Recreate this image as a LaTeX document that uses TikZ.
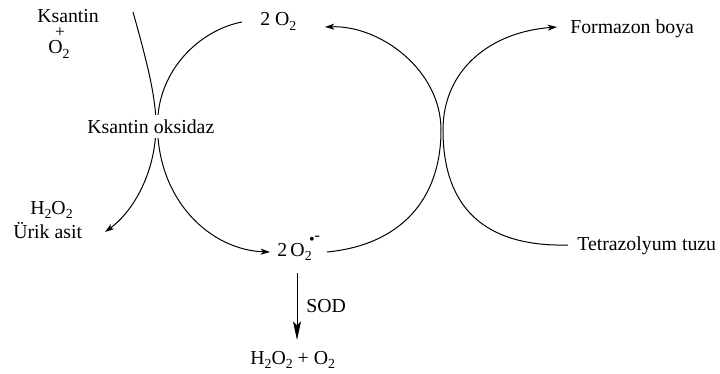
\documentclass[tikz,border=0pt]{standalone}
\usepackage{fontspec}
\setmainfont{Liberation Serif}
\usetikzlibrary{arrows.meta,backgrounds}
\newcommand\sbs[1]{\raisebox{-0.25em}{\fontsize{10.4}{12}\selectfont #1}}
\begin{document}
\begin{tikzpicture}[x=0.75pt,y=-0.75pt,
  lbl/.style={font=\fontsize{14.85}{18}\selectfont, inner sep=0pt, anchor=base west},
  curve/.style={line width=0.75pt},
  arr/.style={curve,-{Stealth[length=7pt,width=4.5pt,inset=2pt]}},
  bigarr/.style={curve,-{Stealth[length=14pt,width=6pt,inset=3pt]}}]
\useasboundingbox (0,0) rectangle (720,374);

% labels
\node[lbl] (ks) at (37,23) {Ksantin};
\node[lbl,anchor=center,font=\fontsize{13}{13}\selectfont] (plus) at (60,32.5) {+};
\node[lbl] (o2a) at (48,54) {O\sbs{2}};
\node[lbl,fill=white,inner xsep=0pt,inner ysep=3.5pt] (ko) at (87,133) {Ksantin oksidaz};
\node[lbl] (h2o2) at (30,214) {H\sbs{2}O\sbs{2}};
\node[lbl] (urik) at (13,238) {Ürik asit};
\node[lbl] (o2top) at (260,26) {2 O\sbs{2}};
\node[lbl] (rad) at (277,256) {2\,O\sbs{2}\hspace{-2pt}\raisebox{9pt}{\fontsize{12}{12}\selectfont\textbullet}\raisebox{11.5pt}{\fontsize{12}{12}\selectfont -}};
\node[lbl] (sod) at (306,312) {SOD};
\node[lbl] (prod) at (250,364) {H\sbs{2}O\sbs{2} + O\sbs{2}};
\node[lbl] (form) at (570,34) {Formazon boya};
\node[lbl] (tetra) at (577,250) {Tetrazolyum tuzu};

% connector end points
\coordinate (a1) at (133,12);
\coordinate (L) at (156,125);
\coordinate (a2) at (105,232);
\coordinate (c1) at (242,22);
\coordinate (CL) at (157.5,125);
\coordinate (c2) at (270,252);
\coordinate (c3) at (327,252);
\coordinate (CR) at (441,130);
\coordinate (c4) at (325,27);
\coordinate (d1) at (568,245);
\coordinate (DR) at (443,130);
\coordinate (d2) at (557,27);
\coordinate (s1) at (297,273);
\coordinate (s2) at (297,340);

\begin{pgfonlayer}{background}
\draw[arr] (a1) .. controls (145,55) and (156,95) .. (L)
                .. controls (156,170) and (135,210) .. (a2);
\draw[arr] (c1) .. controls (200,30) and (157.5,70) .. (CL)
                .. controls (157.5,200) and (210,250) .. (c2);
\draw[arr] (c3) .. controls (400,245) and (441,200) .. (CR)
                .. controls (441,70) and (380,25) .. (c4);
\draw[arr] (d1) .. controls (485,247) and (443,208) .. (DR)
                .. controls (443,70) and (490,32) .. (d2);
\draw[bigarr] (s1) -- (s2);
\end{pgfonlayer}
\end{tikzpicture}
\end{document}
